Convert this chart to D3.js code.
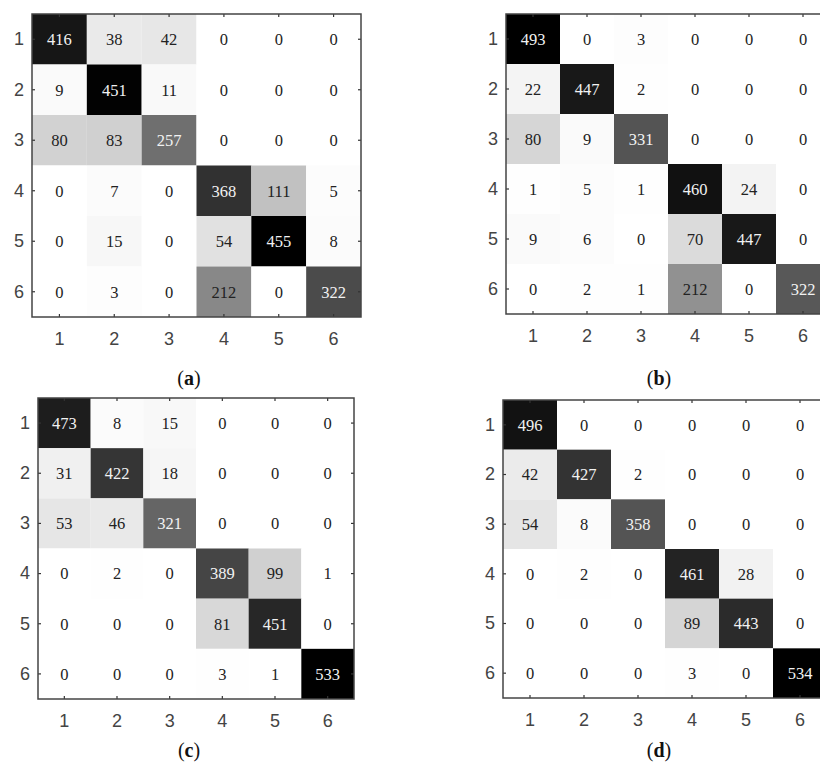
<!DOCTYPE html>
<html>
<head>
<meta charset="utf-8">
<style>
  body { margin: 0; background: #fff; }
  svg { display: block; }
</style>
</head>
<body>
<svg id="chart" width="820" height="771"></svg>

<script src="https://d3js.org/d3.v7.min.js"></script>
<script>
// class labels
var classes = [1, 2, 3, 4, 5, 6];

// confusion matrices, rows = true class, cols = predicted
var matrixA = [
  [416, 38, 42, 0, 0, 0],
  [9, 451, 11, 0, 0, 0],
  [80, 83, 257, 0, 0, 0],
  [0, 7, 0, 368, 111, 5],
  [0, 15, 0, 54, 455, 8],
  [0, 3, 0, 212, 0, 322]
];
var matrixB = [
  [493, 0, 3, 0, 0, 0],
  [22, 447, 2, 0, 0, 0],
  [80, 9, 331, 0, 0, 0],
  [1, 5, 1, 460, 24, 0],
  [9, 6, 0, 70, 447, 0],
  [0, 2, 1, 212, 0, 322]
];
var matrixC = [
  [473, 8, 15, 0, 0, 0],
  [31, 422, 18, 0, 0, 0],
  [53, 46, 321, 0, 0, 0],
  [0, 2, 0, 389, 99, 1],
  [0, 0, 0, 81, 451, 0],
  [0, 0, 0, 3, 1, 533]
];
var matrixD = [
  [496, 0, 0, 0, 0, 0],
  [42, 427, 2, 0, 0, 0],
  [54, 8, 358, 0, 0, 0],
  [0, 2, 0, 461, 28, 0],
  [0, 0, 0, 89, 443, 0],
  [0, 0, 0, 3, 0, 534]
];
var panelLetters = ["a", "b", "c", "d"];

// where each panel sits on the page
var panels = [
  { m: matrixA, x0: 32,  x1: 361, y0: 14,  y1: 317, lx: 189, ly: 385 },
  { m: matrixB, x0: 506, x1: 830, y0: 14,  y1: 314, lx: 659, ly: 385 },
  { m: matrixC, x0: 38,  x1: 354, y0: 398, y1: 699, lx: 189, ly: 757 },
  { m: matrixD, x0: 503, x1: 827, y0: 400, y1: 698, lx: 659, ly: 757 }
];

var svg = d3.select("#chart");

panels.forEach(function(p, i) {
  var x = d3.scaleBand().domain(classes).range([p.x0, p.x1]);
  var y = d3.scaleBand().domain(classes).range([p.y0, p.y1]);
  var vmax = d3.max(p.m, function(r) { return d3.max(r); });
  var shade = d3.scaleLinear().domain([0, vmax]).range(["#ffffff", "#000000"]);

  var cells = [];
  p.m.forEach(function(row, r) {
    row.forEach(function(v, c) {
      cells.push({ row: classes[r], col: classes[c], v: v });
    });
  });

  var g = svg.append("g");

  g.selectAll("rect.cell")
    .data(cells)
    .join("rect")
    .attr("class", "cell")
    .attr("x", function(d) { return x(d.col); })
    .attr("y", function(d) { return y(d.row); })
    .attr("width", x.bandwidth())
    .attr("height", y.bandwidth())
    .attr("fill", function(d) { return shade(d.v); });

  g.selectAll("text.val")
    .data(cells)
    .join("text")
    .attr("class", "val")
    .attr("x", function(d) { return x(d.col) + x.bandwidth() / 2; })
    .attr("y", function(d) { return y(d.row) + y.bandwidth() / 2; })
    .attr("text-anchor", "middle")
    .attr("dy", "0.35em")
    .style("font-family", "'Liberation Serif', 'Times New Roman', serif")
    .style("font-size", "16.5px")
    .attr("fill", function(d) { return d.v / vmax > 0.5 ? "#f2f2f2" : "#222"; })
    .text(function(d) { return d.v; });

  // axes, MATLAB style with ticks pointing inward
  var styleAxis = function(a) {
    a.select(".domain").remove();
    a.selectAll(".tick line").attr("stroke", "#333").attr("stroke-width", 1.2);
    a.selectAll(".tick text")
      .style("font-family", "'Liberation Sans', Arial, sans-serif")
      .style("font-size", "18px")
      .attr("fill", "#444");
  };

  g.append("g")
    .attr("transform", "translate(0," + p.y1 + ")")
    .call(d3.axisBottom(x).tickSizeInner(-3).tickSizeOuter(0).tickPadding(15))
    .call(styleAxis);
  g.append("g")
    .attr("transform", "translate(" + p.x0 + ",0)")
    .call(d3.axisLeft(y).tickSizeInner(-3).tickSizeOuter(0).tickPadding(8))
    .call(styleAxis);
  g.append("g")
    .attr("transform", "translate(0," + p.y0 + ")")
    .call(d3.axisTop(x).tickSizeInner(-3).tickSizeOuter(0).tickFormat(""))
    .call(styleAxis);
  g.append("g")
    .attr("transform", "translate(" + p.x1 + ",0)")
    .call(d3.axisRight(y).tickSizeInner(-3).tickSizeOuter(0).tickFormat(""))
    .call(styleAxis);

  g.append("rect")
    .attr("x", p.x0)
    .attr("y", p.y0)
    .attr("width", p.x1 - p.x0)
    .attr("height", p.y1 - p.y0)
    .attr("fill", "none")
    .attr("stroke", "#444")
    .attr("stroke-width", 1.5);

  var lab = svg.append("text")
    .attr("x", p.lx)
    .attr("y", p.ly)
    .attr("text-anchor", "middle")
    .style("font-family", "'Liberation Serif', 'Times New Roman', serif")
    .style("font-size", "20px")
    .attr("fill", "#111");
  lab.append("tspan").text("(");
  lab.append("tspan").style("font-weight", "bold").text(panelLetters[i]);
  lab.append("tspan").text(")");
});
</script>
</body>
</html>
